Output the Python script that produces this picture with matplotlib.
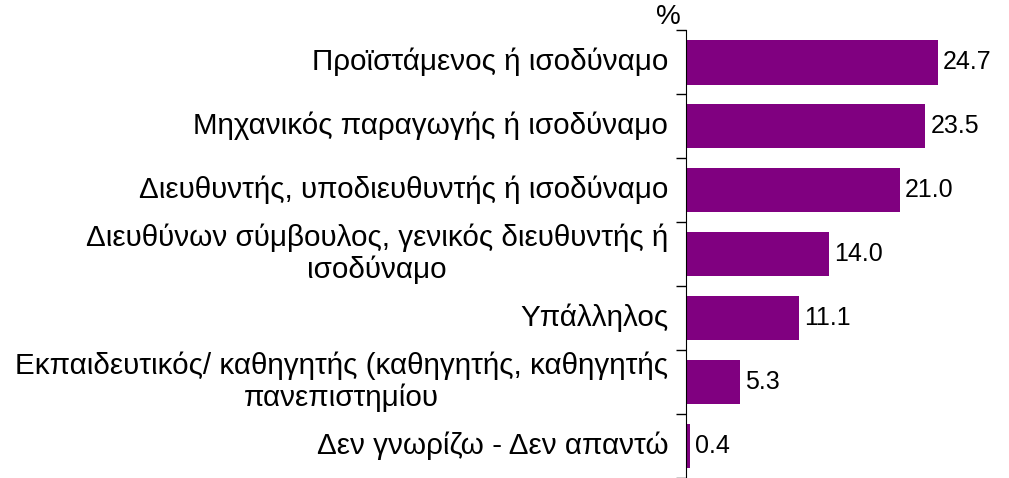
import matplotlib.pyplot as plt
import numpy as np

plt.rcParams['font.family'] = ['Liberation Sans', 'DejaVu Sans']

categories = [
    "Προϊστάμενος ή ισοδύναμο",
    "Μηχανικός παραγωγής ή ισοδύναμο",
    "Διευθυντής, υποδιευθυντής ή ισοδύναμο",
    "Διευθύνων σύμβουλος, γενικός διευθυντής ή\nισοδύναμο",
    "Υπάλληλος",
    "Εκπαιδευτικός/ καθηγητής (καθηγητής, καθηγητής\nπανεπιστημίου",
    "Δεν γνωρίζω - Δεν απαντώ",
]
values = [24.7, 23.5, 21.0, 14.0, 11.1, 5.3, 0.4]
bar_color = "#800080"

fig = plt.figure(figsize=(10.09, 4.78), dpi=100)
ax = fig.add_axes([0.68, 0.0, 0.32, 0.937])

y = np.arange(len(categories))
ax.barh(y, values, height=0.7, color=bar_color)
ax.set_xlim(0, 31.7)
ax.set_ylim(len(categories) - 0.5, -0.5)

# category labels as text, ticks on the boundaries
for i, lab in enumerate(categories):
    ax.text(-1.75, i, lab, ha='right', va='center', multialignment='center',
            fontsize=21.3, linespacing=1.15)
ax.set_yticks(np.arange(len(categories) + 1) - 0.5)
ax.set_yticklabels([])
ax.tick_params(axis='y', direction='out', length=7, width=1)

for i, v in enumerate(values):
    ax.text(v + 0.5, i, f"{v:.1f}", ha='left', va='center', fontsize=18)

ax.text(-0.5, -0.5, "%", ha='right', va='bottom', fontsize=20)

ax.spines['top'].set_visible(False)
ax.spines['right'].set_visible(False)
ax.spines['bottom'].set_visible(False)
ax.set_xticks([])

fig.savefig("out.png", dpi=100)
